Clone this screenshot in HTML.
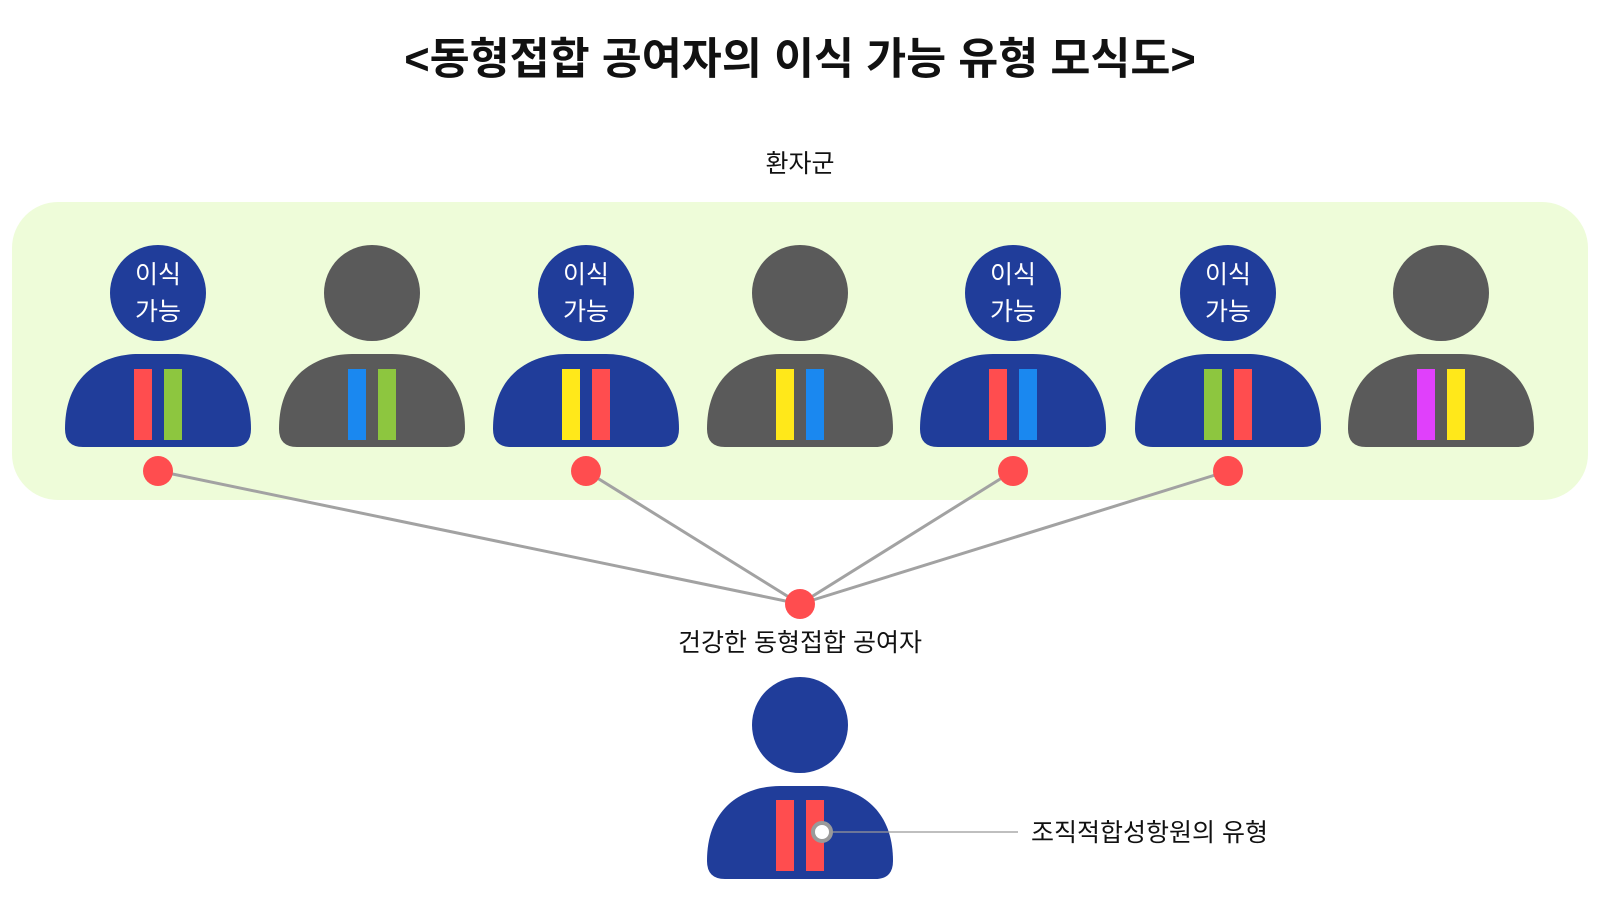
<!DOCTYPE html>
<html><head><meta charset="utf-8"><style>
html,body{margin:0;padding:0;background:#fff;}
svg{display:block;font-family:"Liberation Sans","Noto Sans CJK KR",sans-serif;}
</style></head><body>
<svg width="1600" height="900" viewBox="0 0 1600 900" xmlns="http://www.w3.org/2000/svg">
<defs>
<path id="body" d="M-93,429 C-93,370 -50,354 -20,354 L20,354 C50,354 93,370 93,429 Q93,447 75,447 L-75,447 Q-93,447 -93,429 Z"/>
</defs>
<text x="800" y="74" text-anchor="middle" font-size="43.5" font-weight="bold" fill="#111">&lt;동형접합 공여자의 이식 가능 유형 모식도&gt;</text>
<text x="800" y="172" text-anchor="middle" font-size="25" fill="#111">환자군</text>
<rect x="12" y="202" width="1576" height="298" rx="46" fill="#eefcd9"/>
<g stroke="#a2a2a2" stroke-width="3">
<line x1="158" y1="471" x2="800" y2="604"/>
<line x1="586" y1="471" x2="800" y2="604"/>
<line x1="1013" y1="471" x2="800" y2="604"/>
<line x1="1228" y1="471" x2="800" y2="604"/>
</g>
<g transform="translate(158,0)"><circle cx="0" cy="293" r="48" fill="#203d9a"/><use href="#body" fill="#203d9a"/><rect x="-24" y="369" width="18" height="71" fill="#ff4d4f"/><rect x="6" y="369" width="18" height="71" fill="#8dc63f"/><text x="0" y="283" text-anchor="middle" font-size="25" fill="#fff">이식</text><text x="0" y="320" text-anchor="middle" font-size="25" fill="#fff">가능</text></g>
<g transform="translate(372,0)"><circle cx="0" cy="293" r="48" fill="#5a5a5a"/><use href="#body" fill="#5a5a5a"/><rect x="-24" y="369" width="18" height="71" fill="#1a88f0"/><rect x="6" y="369" width="18" height="71" fill="#8dc63f"/></g>
<g transform="translate(586,0)"><circle cx="0" cy="293" r="48" fill="#203d9a"/><use href="#body" fill="#203d9a"/><rect x="-24" y="369" width="18" height="71" fill="#ffe81a"/><rect x="6" y="369" width="18" height="71" fill="#ff4d4f"/><text x="0" y="283" text-anchor="middle" font-size="25" fill="#fff">이식</text><text x="0" y="320" text-anchor="middle" font-size="25" fill="#fff">가능</text></g>
<g transform="translate(800,0)"><circle cx="0" cy="293" r="48" fill="#5a5a5a"/><use href="#body" fill="#5a5a5a"/><rect x="-24" y="369" width="18" height="71" fill="#ffe81a"/><rect x="6" y="369" width="18" height="71" fill="#1a88f0"/></g>
<g transform="translate(1013,0)"><circle cx="0" cy="293" r="48" fill="#203d9a"/><use href="#body" fill="#203d9a"/><rect x="-24" y="369" width="18" height="71" fill="#ff4d4f"/><rect x="6" y="369" width="18" height="71" fill="#1a88f0"/><text x="0" y="283" text-anchor="middle" font-size="25" fill="#fff">이식</text><text x="0" y="320" text-anchor="middle" font-size="25" fill="#fff">가능</text></g>
<g transform="translate(1228,0)"><circle cx="0" cy="293" r="48" fill="#203d9a"/><use href="#body" fill="#203d9a"/><rect x="-24" y="369" width="18" height="71" fill="#8dc63f"/><rect x="6" y="369" width="18" height="71" fill="#ff4d4f"/><text x="0" y="283" text-anchor="middle" font-size="25" fill="#fff">이식</text><text x="0" y="320" text-anchor="middle" font-size="25" fill="#fff">가능</text></g>
<g transform="translate(1441,0)"><circle cx="0" cy="293" r="48" fill="#5a5a5a"/><use href="#body" fill="#5a5a5a"/><rect x="-24" y="369" width="18" height="71" fill="#e040fb"/><rect x="6" y="369" width="18" height="71" fill="#ffe81a"/></g>
<g fill="#ff4d4f">
<circle cx="158" cy="471" r="15"/><circle cx="586" cy="471" r="15"/><circle cx="1013" cy="471" r="15"/><circle cx="1228" cy="471" r="15"/><circle cx="800" cy="604" r="15"/>
</g>
<text x="800" y="651" text-anchor="middle" font-size="25" fill="#111">건강한 동형접합 공여자</text>
<g transform="translate(800,432)"><circle cx="0" cy="293" r="48" fill="#203d9a"/><use href="#body" fill="#203d9a"/><rect x="-24" y="368" width="18" height="71" fill="#ff4d4f"/><rect x="6" y="368" width="18" height="71" fill="#ff4d4f"/></g>
<line x1="822" y1="832" x2="1018" y2="832" stroke="#999" stroke-width="1.2"/>
<circle cx="822" cy="832" r="9" fill="#fff" stroke="#9a9a9a" stroke-width="4"/>
<text x="1031" y="841" font-size="25" fill="#111">조직적합성항원의 유형</text>
</svg>
</body></html>
